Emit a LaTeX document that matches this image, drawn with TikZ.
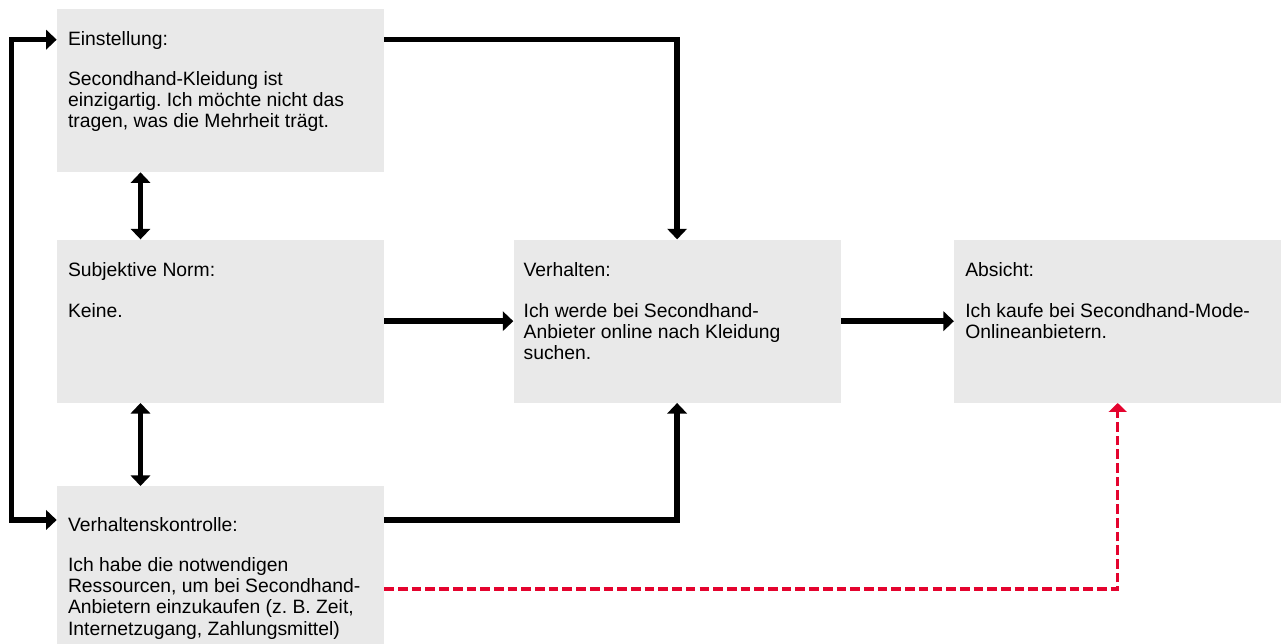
\documentclass[tikz,border=0pt]{standalone}
\usepackage{fontspec}
\setmainfont{Liberation Sans}
\frenchspacing
\usetikzlibrary{arrows.meta, positioning, calc}
\definecolor{boxgray}{HTML}{E9E9E9}
\definecolor{hintred}{HTML}{E4032E}

\begin{document}
\begin{tikzpicture}[
    x=0.02cm, y=-0.02cm,
    node distance=1.34cm and 2.58cm,
    font=\fontsize{11pt}{12pt}\selectfont,
    box/.style={rectangle, fill=boxgray, minimum width=6.54cm, minimum height=3.26cm, inner sep=0pt},
    txt/.style={anchor=north west, align=left, inner sep=0pt},
    line/.style={draw, line width=3.2pt, -{Triangle[length=6pt, width=11pt]}},
    both/.style={line, {Triangle[length=6pt, width=11pt]}-{Triangle[length=6pt, width=11pt]}},
    hint/.style={draw=hintred, line width=1.8pt, dash pattern=on 5.5pt off 2.3pt, -{Triangle[length=5pt, width=10pt]}}
]
\useasboundingbox (0,0) rectangle (1287,643);

% Boxes
\node[box] (einst) at (220.5,90.5) {};
\node[box, below=of einst] (norm) {};
\node[box, below=1.66cm of norm, minimum height=3.16cm] (kontr) {};
\node[box, right=of norm] (verh) {};
\node[box, right=2.26cm of verh] (absicht) {};

% Texts
\node[txt] (einsttxt) at ($(einst.north west)+(11,22)$) {Einstellung:\\[11pt]Secondhand-Kleidung ist\\einzigartig. Ich möchte nicht das\\tragen, was die Mehrheit trägt.};
\node[txt] (normtxt) at ($(norm.north west)+(11,23)$) {Subjektive Norm:\\[11pt]Keine.};
\node[txt] (kontrtxt) at ($(kontr.north west)+(11,31)$) {Verhaltenskontrolle:\\[11pt]Ich habe die notwendigen\\Ressourcen, um bei Secondhand-\\Anbietern einzukaufen (z. B. Zeit,\\Internetzugang, Zahlungsmittel)};
\node[txt] (verhtxt) at ($(verh.north west)+(10,23)$) {Verhalten:\\[11pt]Ich werde bei Secondhand-\\Anbieter online nach Kleidung\\suchen.};
\node[txt] (absichttxt) at ($(absicht.north west)+(11,23)$) {Absicht:\\[11pt]Ich kaufe bei Secondhand-Mode-\\Onlineanbietern.};

% Edges
\draw[line] ($(einst.north east)+(0,31)$) -| (verh.north);
\draw[line] (norm.east) -- (verh.west);
\draw[line] ($(kontr.north east)+(0,34)$) -| (verh.south);
\draw[line] (verh.east) -- (absicht.west);

% Mutual edges
\draw[both] ($(einst.south)+(-80,0)$) -- ($(norm.north)+(-80,0)$);
\draw[both] ($(norm.south)+(-80,0)$) -- ($(kontr.north)+(-80,0)$);
\draw[both] ($(einst.north west)+(0,31)$) -- ++(-45,0) |- ($(kontr.north west)+(0,34)$);

% Dashed edge
\draw[hint] ($(kontr.north east)+(0,103)$) -| (absicht.south);

\end{tikzpicture}
\end{document}
